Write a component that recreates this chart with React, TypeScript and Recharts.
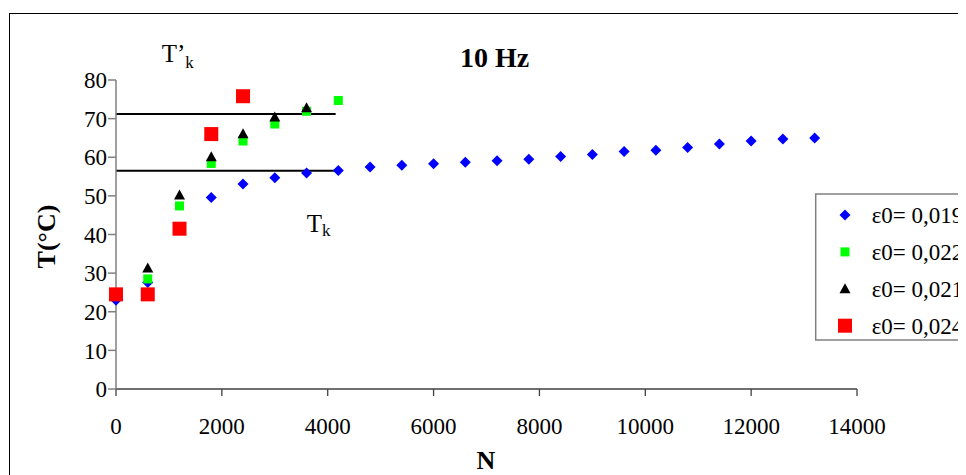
import { ScatterChart, Scatter, XAxis, YAxis, ReferenceLine } from 'recharts';

// number of cycles N and temperature T (°C) for each strain amplitude
const blueN = [0, 600, 1800, 2400, 3000, 3600, 4200, 4800, 5400, 6000, 6600, 7200, 7800, 8400, 9000, 9600, 10200, 10800, 11400, 12000, 12600, 13200];
const blueT = [23.0, 27.6, 49.6, 53.1, 54.7, 55.9, 56.6, 57.5, 57.9, 58.3, 58.7, 59.1, 59.5, 60.2, 60.7, 61.5, 61.8, 62.5, 63.4, 64.2, 64.7, 65.0];
const greenN = [600, 1200, 1800, 2400, 3000, 3600, 4200];
const greenT = [28.5, 47.4, 58.4, 64.2, 68.6, 71.9, 74.7];
const blackN = [600, 1200, 1800, 2400, 3000, 3600];
const blackT = [31.3, 50.2, 60.1, 66.1, 70.4, 72.8];
const redN = [0, 600, 1200, 1800, 2400];
const redT = [24.5, 24.5, 41.5, 66.0, 75.8];

const seriesNames = ['ε0= 0,019', 'ε0= 0,022', 'ε0= 0,021', 'ε0= 0,024'];
const seriesColors = ['#0000ff', '#00ff00', '#000000', '#ff0000'];

// critical temperatures T'k and Tk, drawn up to N = 4150
const tkPrime = 71.2;
const tk = 56.5;
const tkLineEnd = 4150;

const xTicks = [0, 2000, 4000, 6000, 8000, 10000, 12000, 14000];
const yTicks = [0, 10, 20, 30, 40, 50, 60, 70, 80];

const FONT = '"Liberation Serif", "Times New Roman", serif';

const toPoints = (ns: number[], ts: number[]) => ns.map((n, i) => ({ n, t: ts[i] }));

const diamond = (cx: number, cy: number, color: string) => (
  <path d={`M${cx},${cy - 5.5}L${cx + 5.5},${cy}L${cx},${cy + 5.5}L${cx - 5.5},${cy}Z`} fill={color} />
);
const square = (cx: number, cy: number, color: string, s: number) => (
  <rect x={cx - s / 2} y={cy - s / 2} width={s} height={s} fill={color} />
);
const triangle = (cx: number, cy: number, color: string) => (
  <path d={`M${cx},${cy - 5.5}L${cx + 5.5},${cy + 4.5}L${cx - 5.5},${cy + 4.5}Z`} fill={color} />
);

const markers = [
  (cx: number, cy: number) => diamond(cx, cy, seriesColors[0]),
  (cx: number, cy: number) => square(cx, cy, seriesColors[1], 9),
  (cx: number, cy: number) => triangle(cx, cy, seriesColors[2]),
  (cx: number, cy: number) => square(cx, cy, seriesColors[3], 14),
];

const shapeOf = (i: number) => (props: any) => <g>{markers[i](props.cx, props.cy)}</g>;

const series = [
  toPoints(blueN, blueT),
  toPoints(greenN, greenT),
  toPoints(blackN, blackT),
  toPoints(redN, redT),
];

export default function App() {
  return (
    <div style={{ position: 'relative', width: 958, height: 467, overflow: 'hidden', fontFamily: FONT, background: '#fff' }}>
      <div style={{ position: 'absolute', left: 1, top: 4.5, width: 1200, height: 700, border: '1.5px solid #000', boxSizing: 'border-box' }} />
      <div style={{ position: 'absolute', left: 0, top: 0 }}>
        <ScatterChart width={1100} height={467} margin={{ top: 72, right: 251, bottom: 0, left: 0 }} style={{ fontFamily: FONT }}>
          <XAxis
            type="number"
            dataKey="n"
            domain={[0, 14000]}
            ticks={xTicks}
            height={86}
            tickSize={7}
            tickMargin={22}
            axisLine={{ stroke: '#404040', strokeWidth: 1.3 }}
            tickLine={{ stroke: '#404040', strokeWidth: 1.3 }}
            tick={{ fill: '#000', fontSize: 23, fontFamily: FONT }}
          />
          <YAxis
            type="number"
            dataKey="t"
            domain={[0, 80]}
            ticks={yTicks}
            width={108}
            tickSize={8}
            tickMargin={1}
            axisLine={{ stroke: '#808080', strokeWidth: 1.5 }}
            tickLine={{ stroke: '#808080', strokeWidth: 1.5 }}
            tick={{ fill: '#000', fontSize: 23, fontFamily: FONT }}
          />
          <ReferenceLine segment={[{ x: 0, y: tkPrime }, { x: tkLineEnd, y: tkPrime }]} stroke="#000" strokeWidth={2} />
          <ReferenceLine segment={[{ x: 0, y: tk }, { x: tkLineEnd, y: tk }]} stroke="#000" strokeWidth={2} />
          {series.map((data, i) => (
            <Scatter key={i} name={seriesNames[i]} data={data} fill={seriesColors[i]} shape={shapeOf(i)} isAnimationActive={false} />
          ))}
        </ScatterChart>
      </div>
      <svg style={{ position: 'absolute', left: 0, top: 0 }} width={958} height={467} fontFamily={FONT}>
        <text x={486.5} y={59} textAnchor="middle" fontSize={28} fontWeight="bold">10 Hz</text>
        <text x={153.7} y={53.7} fontSize={25}>T’<tspan fontSize={17} dy={6}>k</tspan></text>
        <text x={298.7} y={223.7} fontSize={25}>T<tspan fontSize={17} dy={4}>k</tspan></text>
        <text x={38.7} y={228.5} textAnchor="middle" dominantBaseline="central" fontSize={26} fontWeight="bold" transform="rotate(-90 38.7 228.5)">T(°C)</text>
        <text x={478} y={461} textAnchor="middle" fontSize={26} fontWeight="bold">N</text>
        <rect x={807.7} y={186} width={300} height={146} fill="#fff" stroke="#808080" strokeWidth={1.5} />
        {seriesNames.map((name, i) => {
          const cy = 207 + i * 36.9;
          return (
            <g key={name}>
              {markers[i](837, cy)}
              <text x={863.7} y={cy + 7.8} fontSize={23}>{name}</text>
            </g>
          );
        })}
      </svg>
    </div>
  );
}
